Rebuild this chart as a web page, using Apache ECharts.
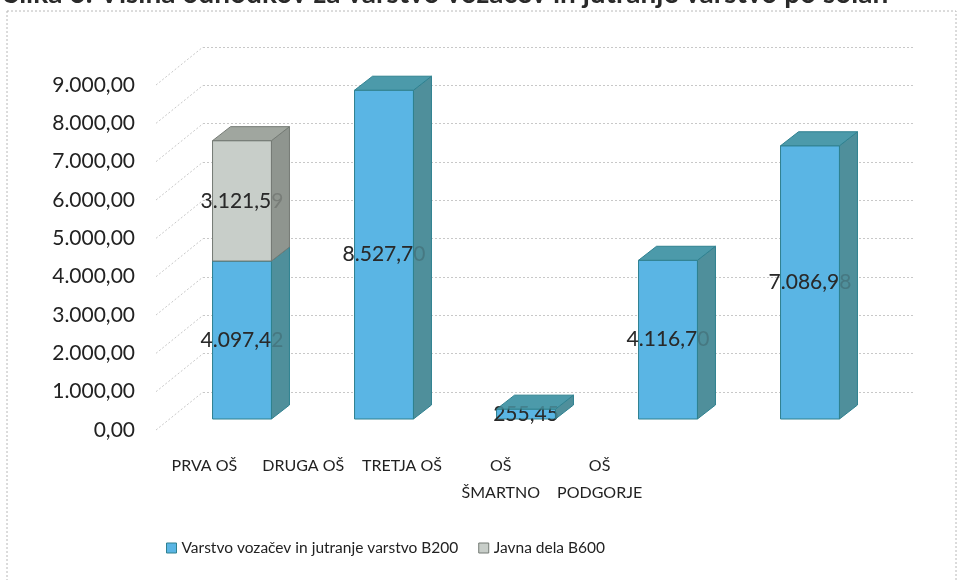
<!DOCTYPE html>
<html>
<head>
<meta charset="utf-8">
<script src="https://cdn.jsdelivr.net/npm/echarts@6/dist/echarts.min.js"></script>
<style>
html, body { margin: 0; padding: 0; background: #fff; }
#chart { width: 959px; height: 580px; }
</style>
</head>
<body>
<div id="chart"></div>
<script>
// podatki
const titleText = 'Slika 6: Višina odhodkov za varstvo vozačev in jutranje varstvo po šolah'
const categories = ['PRVA OŠ', 'DRUGA OŠ', 'TRETJA OŠ', 'OŠ\nŠMARTNO', 'OŠ\nPODGORJE']
const seriesNames = ['Varstvo vozačev in jutranje varstvo B200', 'Javna dela B600']
const varstvo = [4097.42, 8527.70, 255.45, 4116.70, 7086.98]
const javnaDela = [3121.59, null, null, null, null]
const yTicks = [0, 1000, 2000, 3000, 4000, 5000, 6000, 7000, 8000, 9000]

// globina 3D kvadra
const DX = 18
const DY = -14
const FONT = 'Lato'

const blue = { front: '#5ab5e4', side: '#4f8f9b', top: '#4c9aaa', edge: '#2f8190' }
const grey = { front: '#c8cec9', side: '#8f958f', top: '#a0a69f', edge: '#747a74' }

function fmt (v) {
  const parts = Number(v).toFixed(2).split('.')
  return parts[0].replace(/\B(?=(\d{3})+(?!\d))/g, '.') + ',' + parts[1]
}

function cuboid (colors, base) {
  return function (params, api) {
    const i = api.value(0)
    const v = api.value(1)
    if (!v) return
    const b = base ? (base[i] || 0) : 0
    const bottom = api.coord([i, b])
    const top = api.coord([i, b + v])
    const w = api.size([1, 0])[0] * 0.415
    const x0 = bottom[0] - w / 2
    const x1 = bottom[0] + w / 2
    const yb = bottom[1]
    const yt = top[1]
    const label = {
      text: fmt(v),
      x: (x0 + x1) / 2,
      y: (yt + yb) / 2,
      align: 'center',
      verticalAlign: 'middle',
      fill: '#2a2a2a',
      fontSize: 21,
      fontFamily: FONT
    }
    return {
      type: 'group',
      children: [
        {
          type: 'rect',
          shape: { x: x0, y: yt, width: w, height: yb - yt },
          style: { fill: colors.front, stroke: colors.edge, lineWidth: 1 }
        },
        { type: 'text', style: label },
        {
          type: 'polygon',
          shape: { points: [[x1, yb], [x1, yt], [x1 + DX, yt + DY], [x1 + DX, yb + DY]] },
          style: { fill: colors.side, stroke: colors.edge, lineWidth: 1 }
        },
        {
          type: 'polygon',
          shape: { points: [[x0, yt], [x0 + DX, yt + DY], [x1 + DX, yt + DY], [x1, yt]] },
          style: { fill: colors.top, stroke: colors.edge, lineWidth: 1 }
        },
        // oznaka rahlo prosojna čez stransko ploskev
        { type: 'text', style: Object.assign({}, label, { opacity: 0.22 }) }
      ]
    }
  }
}

const chart = echarts.init(document.getElementById('chart'))

chart.setOption({
  animation: false,
  title: {
    text: titleText,
    left: -1,
    top: -25,
    textStyle: { fontSize: 28, fontWeight: 'bold', fontFamily: FONT, color: '#2a2a2a' }
  },
  graphic: [
    {
      type: 'rect',
      shape: { x: 7, y: 11, width: 949, height: 600 },
      style: { fill: 'none', stroke: '#b8b8b8', lineWidth: 1, lineDash: [2, 2] },
      z: -1
    }
  ],
  legend: {
    left: 161,
    top: 535,
    itemWidth: 10,
    itemHeight: 10,
    itemGap: 20,
    icon: 'rect',
    textStyle: { fontSize: 15.5, fontFamily: FONT, color: '#222' },
    data: [
      { name: seriesNames[0], itemStyle: { color: blue.front, borderColor: blue.edge, borderWidth: 1 } },
      { name: seriesNames[1], itemStyle: { color: grey.front, borderColor: grey.edge, borderWidth: 1 } }
    ]
  },
  grid: [
    // zadnja stena
    { left: 203, right: 44, top: 47, bottom: 188 },
    // sprednji rob (oznake osi)
    { left: 155, right: 310, top: 85, bottom: 150 },
    // stolpci
    { left: 171, right: 78, top: 72, bottom: 161 }
  ],
  xAxis: [
    { gridIndex: 0, type: 'category', data: categories, show: false },
    {
      gridIndex: 1,
      type: 'category',
      data: categories,
      axisLine: { show: false },
      axisTick: { show: false },
      axisLabel: { margin: 22, fontSize: 16, lineHeight: 27, fontFamily: FONT, color: '#222', interval: 0 }
    },
    { gridIndex: 2, type: 'category', data: categories, show: false }
  ],
  yAxis: [
    {
      gridIndex: 0,
      type: 'value',
      min: 0,
      max: 9000,
      interval: 1000,
      axisLabel: { show: false },
      axisLine: { show: false },
      axisTick: { show: false },
      splitLine: { lineStyle: { color: '#c8c8c8', type: [2, 2] } }
    },
    {
      gridIndex: 1,
      type: 'value',
      min: 0,
      max: 9000,
      interval: 1000,
      axisLine: { show: false },
      axisTick: { show: false },
      splitLine: { show: false },
      axisLabel: { margin: 20, fontSize: 21, fontFamily: FONT, color: '#222', formatter: fmt }
    },
    { gridIndex: 2, type: 'value', min: 0, max: 9000, interval: 1000, show: false }
  ],
  series: [
    {
      // diagonale stranske stene
      type: 'custom',
      xAxisIndex: 0,
      yAxisIndex: 0,
      silent: true,
      data: yTicks.map(v => [0, v]),
      renderItem (params, api) {
        const p = api.coord([0, api.value(1)])
        const x = params.coordSys.x
        return {
          type: 'line',
          shape: { x1: x - 47, y1: p[1] + 38, x2: x, y2: p[1] },
          style: { stroke: '#c8c8c8', lineWidth: 1, lineDash: [2, 2] }
        }
      }
    },
    {
      name: seriesNames[0],
      type: 'custom',
      xAxisIndex: 2,
      yAxisIndex: 2,
      itemStyle: { color: blue.front },
      encode: { x: 0, y: 1 },
      data: varstvo.map((v, i) => [i, v]),
      renderItem: cuboid(blue, null)
    },
    {
      name: seriesNames[1],
      type: 'custom',
      xAxisIndex: 2,
      yAxisIndex: 2,
      itemStyle: { color: grey.front },
      encode: { x: 0, y: 1 },
      data: javnaDela.map((v, i) => [i, v]),
      renderItem: cuboid(grey, varstvo)
    }
  ]
})
</script>
</body>
</html>
